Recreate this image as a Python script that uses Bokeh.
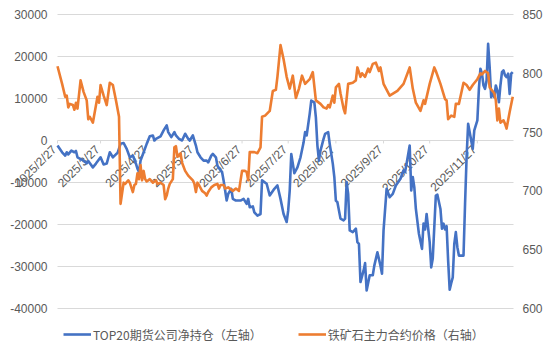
import pandas as pd
from math import pi
from bokeh.plotting import figure
from bokeh.models import Range1d, ColumnDataSource, Legend, LegendItem
from bokeh.core.properties import value
from bokeh.embed import file_html
from bokeh.resources import INLINE

# ---------------- data ----------------
net_dates = [
    "2025-02-27", "2025-03-02", "2025-03-04", "2025-03-05", "2025-03-06", "2025-03-08", "2025-03-10",
    "2025-03-11", "2025-03-12", "2025-03-15", "2025-03-18", "2025-03-19", "2025-03-22", "2025-03-24",
    "2025-03-27", "2025-03-29", "2025-03-31", "2025-04-02", "2025-04-04", "2025-04-06", "2025-04-07",
    "2025-04-09", "2025-04-11", "2025-04-13", "2025-04-15", "2025-04-17", "2025-04-19", "2025-04-20",
    "2025-04-21", "2025-04-22", "2025-04-24", "2025-04-26", "2025-04-28", "2025-04-30", "2025-05-01",
    "2025-05-02", "2025-05-05", "2025-05-07", "2025-05-09", "2025-05-10", "2025-05-12", "2025-05-14",
    "2025-05-15", "2025-05-17", "2025-05-19", "2025-05-21", "2025-05-23", "2025-05-24", "2025-05-26",
    "2025-05-28", "2025-05-29", "2025-05-31", "2025-06-02", "2025-06-04", "2025-06-05", "2025-06-07",
    "2025-06-08", "2025-06-10", "2025-06-11", "2025-06-13", "2025-06-14", "2025-06-15", "2025-06-16",
    "2025-06-17", "2025-06-18", "2025-06-20", "2025-06-21", "2025-06-23", "2025-06-26", "2025-06-28",
    "2025-06-30", "2025-07-01", "2025-07-02", "2025-07-04", "2025-07-05", "2025-07-07", "2025-07-09",
    "2025-07-10", "2025-07-13", "2025-07-15", "2025-07-18", "2025-07-20", "2025-07-22", "2025-07-24",
    "2025-07-26", "2025-07-27", "2025-07-28", "2025-07-29", "2025-07-31", "2025-08-02", "2025-08-04",
    "2025-08-06", "2025-08-07", "2025-08-08", "2025-08-10", "2025-08-11", "2025-08-13", "2025-08-14",
    "2025-08-15", "2025-08-16", "2025-08-17", "2025-08-19", "2025-08-20", "2025-08-22", "2025-08-23",
    "2025-08-25", "2025-08-26", "2025-08-27", "2025-08-28", "2025-08-30", "2025-09-01", "2025-09-02",
    "2025-09-03", "2025-09-04", "2025-09-05", "2025-09-07", "2025-09-09", "2025-09-10", "2025-09-11",
    "2025-09-12", "2025-09-14", "2025-09-15", "2025-09-16", "2025-09-18", "2025-09-20", "2025-09-21",
    "2025-09-23", "2025-09-25", "2025-09-26", "2025-09-27", "2025-09-29", "2025-10-01", "2025-10-03",
    "2025-10-05", "2025-10-08", "2025-10-10", "2025-10-11", "2025-10-12", "2025-10-14", "2025-10-15",
    "2025-10-16", "2025-10-17", "2025-10-18", "2025-10-20", "2025-10-22", "2025-10-23", "2025-10-24",
    "2025-10-25", "2025-10-27", "2025-10-28", "2025-10-29", "2025-10-31", "2025-11-01", "2025-11-03",
    "2025-11-04", "2025-11-05", "2025-11-06", "2025-11-07", "2025-11-08", "2025-11-09", "2025-11-10",
    "2025-11-11", "2025-11-12", "2025-11-13", "2025-11-14", "2025-11-15", "2025-11-18", "2025-11-19",
    "2025-11-20", "2025-11-21", "2025-11-23", "2025-11-24", "2025-11-25", "2025-11-27", "2025-11-28",
    "2025-11-29", "2025-11-30", "2025-12-01", "2025-12-02", "2025-12-03", "2025-12-04", "2025-12-05",
    "2025-12-06", "2025-12-07", "2025-12-08", "2025-12-09", "2025-12-10", "2025-12-11", "2025-12-12",
    "2025-12-13", "2025-12-14", "2025-12-15", "2025-12-16", "2025-12-17", "2025-12-18", "2025-12-19",
    "2025-12-20",
]
net_position = [
    -1200, -2800, -3600, -2800, -3300, -2400, -2800,
    -2500, -4000, -4600, -5400, -4900, -6400, -5500,
    -4000, -5700, -5500, -2800, -4000, -3300, -3000,
    -800, -600, -2000, -4000, -3600, -5500, -6700,
    -7500, -4800, -2800, -800, 1000, 1200, 0,
    400, 1000, 2400, 3600, 2000, 800, 2000,
    1200, 400, 0, 1600, 400, 0, 1200,
    -1200, -2800, -4000, -4800, -4800, -5200, -3600,
    -3200, -4000, -6000, -7100, -7500, -9500, -11900,
    -14300, -12700, -11500, -13900, -14300, -14300, -13900,
    -15100, -13900, -15900, -15700, -17100, -17900, -17500,
    -9500, -10300, -13100, -11500, -10700, -13900, -17500,
    -19400, -16700, -11900, -3200, -7800, -6400, -4000,
    -500, 2000, 1200, 6400, 9500, 9100, 5500,
    -1200, -4800, -2400, 400, 1600, 2000, -800,
    -5500, -8700, -14300, -14700, -18600, -19000, -18600,
    -9900, -12700, -21400, -21800, -21000, -24200, -24600,
    -33700, -31000, -29200, -35700, -32100, -32100, -29800,
    -26600, -29800, -31700, -21400, -11500, -13500, -12700,
    -10700, -9100, -7100, -7500, -5500, -1200, -11900,
    -8700, -11100, -16200, -22200, -25800, -19800, -21200,
    -17500, -24200, -30200, -28100, -13100, -12900, -16300,
    -21000, -19800, -21200, -20400, -28600, -35500, -34000,
    -32600, -24600, -21800, -25400, -27400, -27400, -15100,
    -4000, 4000, 0, -2000, 2400, 4800, 12300,
    17100, 15900, 13100, 12300, 14300, 23000, 17500,
    10300, 11500, 10300, 13100, 11900, 9100, 13100,
    16300, 16700, 15500, 15100, 15900, 11100, 15900,
    16300,
]

price_dates = [
    "2025-02-27", "2025-03-02", "2025-03-04", "2025-03-05", "2025-03-06", "2025-03-07", "2025-03-09",
    "2025-03-10", "2025-03-11", "2025-03-12", "2025-03-14", "2025-03-16", "2025-03-18", "2025-03-19",
    "2025-03-20", "2025-03-22", "2025-03-25", "2025-03-26", "2025-03-27", "2025-03-29", "2025-03-31",
    "2025-04-02", "2025-04-04", "2025-04-06", "2025-04-08", "2025-04-09", "2025-04-11", "2025-04-12",
    "2025-04-14", "2025-04-15", "2025-04-17", "2025-04-18", "2025-04-19", "2025-04-20", "2025-04-21",
    "2025-04-22", "2025-04-23", "2025-04-24", "2025-04-25", "2025-04-26", "2025-04-28", "2025-04-30",
    "2025-05-02", "2025-05-03", "2025-05-05", "2025-05-07", "2025-05-08", "2025-05-09", "2025-05-10",
    "2025-05-11", "2025-05-13", "2025-05-14", "2025-05-15", "2025-05-16", "2025-05-18", "2025-05-19",
    "2025-05-21", "2025-05-23", "2025-05-26", "2025-05-27", "2025-05-28", "2025-05-29", "2025-05-30",
    "2025-06-01", "2025-06-03", "2025-06-04", "2025-06-05", "2025-06-07", "2025-06-09", "2025-06-11",
    "2025-06-12", "2025-06-13", "2025-06-15", "2025-06-16", "2025-06-18", "2025-06-21", "2025-06-23",
    "2025-06-25", "2025-06-27", "2025-06-29", "2025-06-30", "2025-07-01", "2025-07-02", "2025-07-05",
    "2025-07-07", "2025-07-09", "2025-07-10", "2025-07-12", "2025-07-15", "2025-07-17", "2025-07-19",
    "2025-07-20", "2025-07-22", "2025-07-24", "2025-07-26", "2025-07-28", "2025-07-30", "2025-08-01",
    "2025-08-03", "2025-08-05", "2025-08-07", "2025-08-10", "2025-08-12", "2025-08-14", "2025-08-17",
    "2025-08-19", "2025-08-21", "2025-08-22", "2025-08-23", "2025-08-25", "2025-08-26", "2025-08-27",
    "2025-08-29", "2025-08-30", "2025-09-01", "2025-09-02", "2025-09-04", "2025-09-07", "2025-09-09",
    "2025-09-10", "2025-09-12", "2025-09-13", "2025-09-15", "2025-09-17", "2025-09-18", "2025-09-20",
    "2025-09-22", "2025-09-24", "2025-09-25", "2025-09-27", "2025-10-01", "2025-10-06", "2025-10-10",
    "2025-10-14", "2025-10-16", "2025-10-18", "2025-10-21", "2025-10-23", "2025-10-24", "2025-10-27",
    "2025-10-30", "2025-10-31", "2025-11-03", "2025-11-06", "2025-11-07", "2025-11-08", "2025-11-10",
    "2025-11-12", "2025-11-13", "2025-11-15", "2025-11-18", "2025-11-20", "2025-11-22", "2025-11-24",
    "2025-11-27", "2025-11-29", "2025-11-30", "2025-12-02", "2025-12-04", "2025-12-05", "2025-12-08",
    "2025-12-09", "2025-12-10", "2025-12-11", "2025-12-12", "2025-12-14", "2025-12-15", "2025-12-16",
    "2025-12-18", "2025-12-20",
]
ore_price = [
    806, 791, 780, 781, 771, 774, 773,
    769, 775, 770, 794, 784, 777, 761,
    763, 758, 780, 775, 790, 781, 773,
    792, 790, 777, 763, 689, 707, 706,
    709, 707, 699, 705, 706, 715, 710,
    722, 709, 717, 710, 708, 710, 707,
    709, 706, 707, 705, 693, 696, 702,
    706, 710, 737, 738, 729, 732, 724,
    717, 713, 709, 706, 699, 707, 705,
    700, 698, 696, 699, 703, 705, 706,
    702, 705, 705, 702, 703, 700, 702,
    700, 717, 717, 716, 709, 733, 733,
    732, 737, 763, 764, 768, 785, 786,
    797, 824, 812, 797, 787, 798, 779,
    787, 798, 791, 795, 801, 777, 774,
    771, 770, 773, 771, 781, 775, 788,
    791, 783, 770, 766, 791, 792, 794,
    805, 797, 800, 797, 804, 801, 808,
    809, 802, 805, 791, 781, 785, 791,
    805, 787, 775, 768, 777, 774, 791,
    805, 802, 791, 778, 777, 761, 764,
    763, 774, 774, 792, 790, 786, 790,
    795, 800, 799, 802, 800, 788, 783,
    777, 760, 770, 758, 760, 757, 753,
    767, 780,
]

tick_dates = ["2025-02-27", "2025-03-27", "2025-04-27", "2025-05-27", "2025-06-27",
              "2025-07-27", "2025-08-27", "2025-09-27", "2025-10-27", "2025-11-27"]
tick_labels = ["2025/2/27", "2025/3/27", "2025/4/27", "2025/5/27", "2025/6/27",
               "2025/7/27", "2025/8/27", "2025/9/27", "2025/10/27", "2025/11/27"]

left_ticks = [-40000, -30000, -20000, -10000, 0, 10000, 20000, 30000]
left_labels = ["-40000", "-30000", "-20000", "-10000", "0", "10000", "20000", "30000"]
right_ticks = [600, 650, 700, 750, 800, 850]
right_labels = ["600", "650", "700", "750", "800", "850"]

series_names = ["TOP20期货公司净持仓（左轴）", "铁矿石主力合约价格（右轴）"]

# ---------------- layout (pixels) ----------------
W, H = 550, 352
PLOT_L, PLOT_R, PLOT_T, PLOT_B = 57, 513, 14, 308

BLUE = "#4472C4"
ORANGE = "#ED7D31"
GREY_TXT = "#595959"
GRID = "#D9D9D9"

x_start = pd.Timestamp("2025-02-27")
x_end = pd.Timestamp("2025-12-20 12:00")
px_per_ms = (PLOT_R - PLOT_L) / (x_end - x_start).total_seconds()
xr_start = x_start - pd.Timedelta(seconds=PLOT_L / px_per_ms)
xr_end = x_end + pd.Timedelta(seconds=(W - PLOT_R) / px_per_ms)

ly0, ly1 = left_ticks[0], left_ticks[-1]
lpp = (ly1 - ly0) / (PLOT_B - PLOT_T)
ry0, ry1 = right_ticks[0], right_ticks[-1]
rpp = (ry1 - ry0) / (PLOT_B - PLOT_T)

p = figure(width=W, height=H, output_backend="svg", toolbar_location=None,
           x_range=Range1d(xr_start, xr_end),
           y_range=Range1d(ly0 - (H - PLOT_B) * lpp, ly1 + PLOT_T * lpp),
           x_axis_type="datetime", x_axis_location=None, y_axis_location=None,
           min_border=0)
p.extra_y_ranges = {"right": Range1d(ry0 - (H - PLOT_B) * rpp, ry1 + PLOT_T * rpp)}
p.outline_line_color = None
p.background_fill_color = "white"
p.border_fill_color = "white"
p.grid.visible = False

# horizontal gridlines
gsrc = ColumnDataSource(dict(y=left_ticks, x0=[x_start] * len(left_ticks),
                             x1=[x_end] * len(left_ticks)))
p.segment(x0="x0", y0="y", x1="x1", y1="y", source=gsrc, line_color=GRID, line_width=1)

# y-axis labels
p.text(x=[x_start] * len(left_ticks), y=left_ticks, text=left_labels, x_offset=-10,
       text_align="right", text_baseline="middle", text_font=value("Liberation Sans"),
       text_font_size="12px", text_color=GREY_TXT)
p.text(x=[x_end] * len(right_ticks), y=right_ticks, text=right_labels, x_offset=9,
       y_range_name="right", text_align="left", text_baseline="middle",
       text_font=value("Liberation Sans"), text_font_size="12px", text_color=GREY_TXT)

# x axis (at y = 0): tick marks and rotated labels
tsrc = ColumnDataSource(dict(x=pd.to_datetime(tick_dates), y=[0] * len(tick_dates),
                             text=tick_labels))
p.segment(x0="x", y0="y", x1="x", y1=-700, source=tsrc, line_color=GRID, line_width=1)
p.text(x="x", y="y", text="text", source=tsrc, angle=pi / 4,
       text_align="right", text_baseline="middle", x_offset=-3, y_offset=7,
       text_font=value("Liberation Sans"), text_font_size="12px", text_color=GREY_TXT)

# series
r_net = p.line(x=pd.to_datetime(net_dates), y=net_position, line_color=BLUE,
               line_width=2.6, line_join="round")
r_px = p.line(x=pd.to_datetime(price_dates), y=ore_price, y_range_name="right",
              line_color=ORANGE, line_width=2.6, line_join="round")

legend = Legend(items=[LegendItem(label=series_names[0], renderers=[r_net]),
                       LegendItem(label=series_names[1], renderers=[r_px])],
                orientation="horizontal", location=(63, 9),
                padding=0, margin=0, spacing=36, glyph_width=28, glyph_height=18,
                label_height=18, label_standoff=2, border_line_color=None,
                background_fill_alpha=0, label_text_font="Noto Sans CJK SC",
                label_text_font_size="12px", label_text_color=GREY_TXT)
p.add_layout(legend)

open("out.html", "w").write(file_html(p, INLINE, title="chart"))
